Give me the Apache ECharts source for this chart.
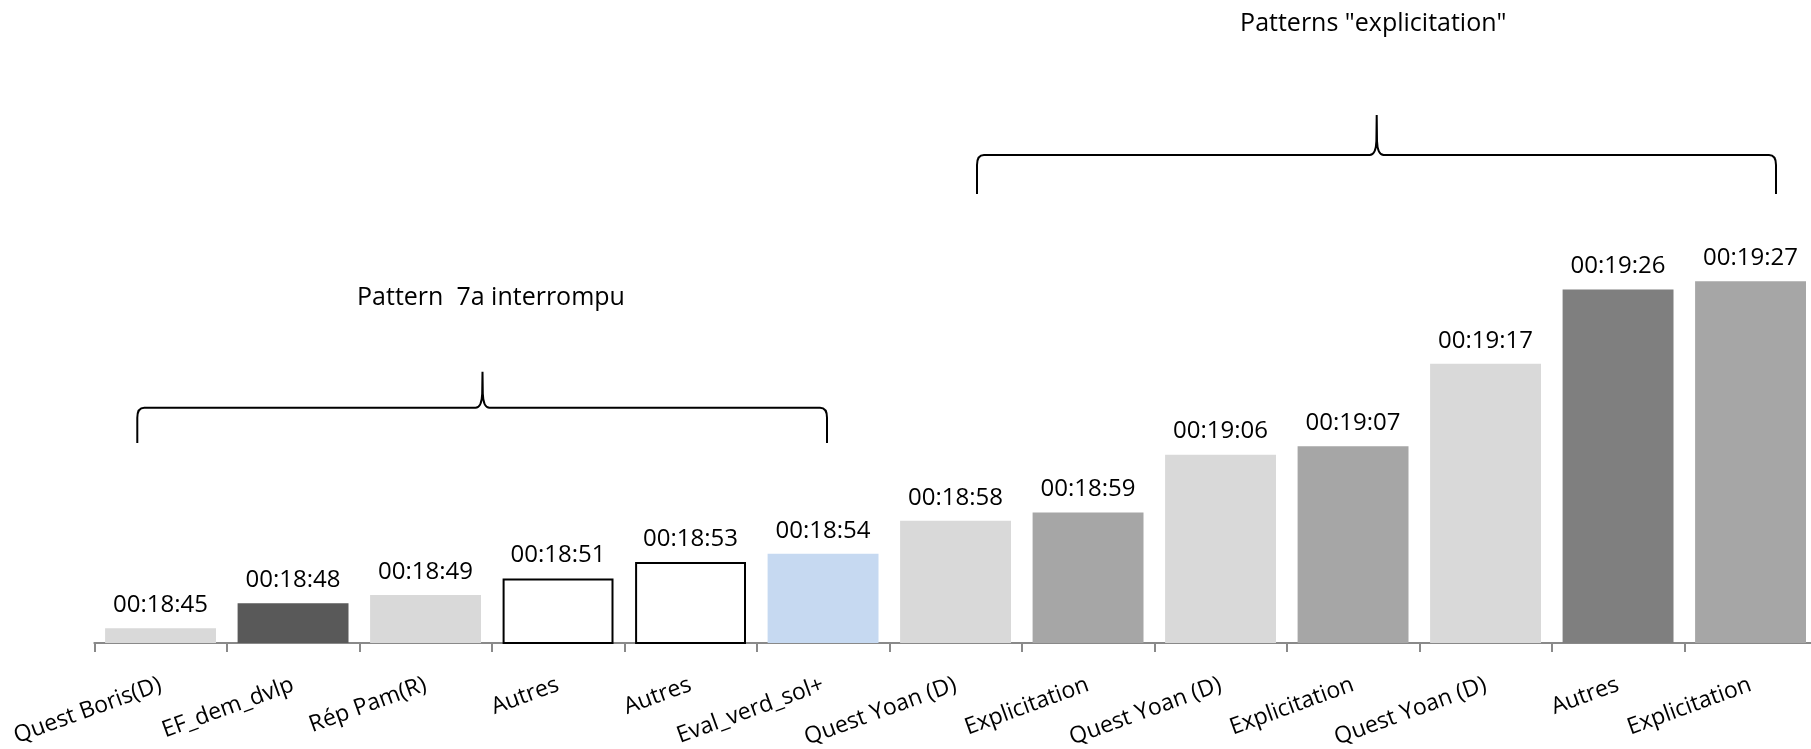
<!DOCTYPE html>
<html>
<head>
<meta charset="utf-8">
<script src="https://cdn.jsdelivr.net/npm/echarts@6/dist/echarts.min.js"></script>
<style>
html,body{margin:0;padding:0;background:#fff;}
#chart{width:1811px;height:749px;}
</style>
</head>
<body>
<div id="chart"></div>
<script>
const categories = ['Quest Boris(D)', 'EF_dem_dvlp', 'Rép Pam(R)', 'Autres', 'Autres', 'Eval_verd_sol+', 'Quest Yoan (D)', 'Explicitation', 'Quest Yoan (D)', 'Explicitation', 'Quest Yoan (D)', 'Autres', 'Explicitation'];
const times = ['00:18:45', '00:18:48', '00:18:49', '00:18:51', '00:18:53', '00:18:54', '00:18:58', '00:18:59', '00:19:06', '00:19:07', '00:19:17', '00:19:26', '00:19:27'];
const barColors = ['#D9D9D9', '#595959', '#D9D9D9', '#FFFFFF', '#FFFFFF', '#C6D9F1', '#D9D9D9', '#A6A6A6', '#D9D9D9', '#A6A6A6', '#D9D9D9', '#7F7F7F', '#A6A6A6'];
const outlined = [false, false, false, true, true, false, false, false, false, false, false, false, false];
const groupTitles = ['Pattern  7a interrompu', 'Patterns "explicitation"'];
// hidden value axis range, in seconds (0.013 day .. 0.0136 day)
const yMin = 1123.2;
const yMax = 1175.04;

function toSeconds(t) {
  const p = t.split(':').map(Number);
  return p[0] * 3600 + p[1] * 60 + p[2];
}
const seconds = times.map(toSeconds);

const chart = echarts.init(document.getElementById('chart'), null, {renderer: 'canvas'});

function bracePath(x1, x2, xc, y, yEnd, yPeak) {
  const r = 7;
  return 'M' + x1 + ',' + yEnd +
    ' L' + x1 + ',' + (y + r + 3) +
    ' Q' + x1 + ',' + y + ' ' + (x1 + r) + ',' + y +
    ' L' + (xc - 7) + ',' + y +
    ' C' + (xc - 2) + ',' + y + ' ' + (xc - 0.6) + ',' + (y - 6) + ' ' + (xc - 0.3) + ',' + (y - 14) +
    ' L' + xc + ',' + yPeak +
    ' L' + (xc + 0.3) + ',' + (y - 14) +
    ' C' + (xc + 0.6) + ',' + (y - 6) + ' ' + (xc + 2) + ',' + y + ' ' + (xc + 7) + ',' + y +
    ' L' + (x2 - r) + ',' + y +
    ' Q' + x2 + ',' + y + ' ' + x2 + ',' + (y + r + 3) +
    ' L' + x2 + ',' + yEnd;
}

const FONT = '"Open Sans", "Noto Sans", sans-serif';

const option = {
  backgroundColor: '#ffffff',
  animation: false,
  grid: {left: 94.3, width: 1722.5, top: 214.7, bottom: 106, containLabel: false, outerBoundsMode: 'none'},
  xAxis: {
    type: 'category',
    data: categories,
    axisLine: {show: true, lineStyle: {color: '#898989', width: 2}},
    axisTick: {show: true, length: 9, lineStyle: {color: '#898989', width: 2}},
    axisLabel: {interval: 0, rotate: 20, margin: 41, fontSize: 23, color: '#000', fontFamily: FONT}
  },
  yAxis: {type: 'value', show: false, min: yMin, max: yMax, splitLine: {show: false}},
  series: [{
    type: 'bar',
    barCategoryGap: '16.3%',
    data: seconds.map((v, i) => ({
      value: v,
      itemStyle: {
        color: barColors[i],
        borderColor: outlined[i] ? '#000' : barColors[i],
        borderWidth: outlined[i] ? 2 : 0
      }
    })),
    label: {
      show: true,
      position: 'top',
      distance: 11,
      fontSize: 24,
      color: '#000',
      fontFamily: FONT,
      formatter: p => times[p.dataIndex]
    }
  }],
  graphic: [
    {type: 'text', x: 491, y: 298, style: {text: groupTitles[0], font: '25px ' + FONT, fill: '#000', textAlign: 'center', textVerticalAlign: 'middle'}},
    {type: 'text', x: 1373.3, y: 24, style: {text: groupTitles[1], font: '25px ' + FONT, fill: '#000', textAlign: 'center', textVerticalAlign: 'middle'}}
  ]
};
chart.setOption(option);

// curly-brace annotations
const zr = chart.getZr();
[
  bracePath(137.3, 827, 482.5, 407.7, 443, 371.7),
  bracePath(977, 1776, 1376.7, 155, 194, 115)
].forEach(d => {
  const p = echarts.graphic.makePath(d, {style: {fill: null, stroke: '#000', lineWidth: 2}, z: 100});
  zr.add(p);
});
</script>
</body>
</html>
